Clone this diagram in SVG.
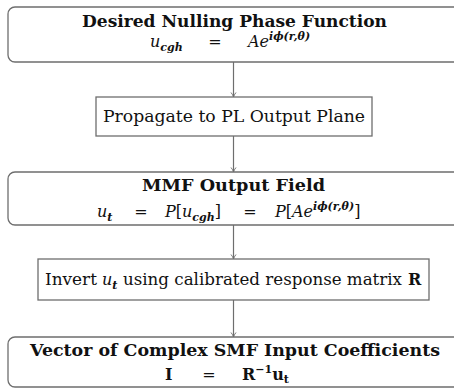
<svg xmlns="http://www.w3.org/2000/svg" width="454" height="389" viewBox="0 0 454 389">
<defs>
<style>
.box{fill:#fff;stroke:#6e6e6e;stroke-width:1.3}
.edge{fill:none;stroke:#6e6e6e;stroke-width:1.2}
text{font-family:"DejaVu Serif","Liberation Serif",serif;fill:#111}
.t{font-size:16px}
.b{font-weight:bold}
.i{font-style:italic}
.s{font-size:11px}
</style>
<marker id="ah" markerWidth="8" markerHeight="8" refX="6" refY="4" orient="auto" markerUnits="userSpaceOnUse">
<path d="M1.5,1.5 Q4,3.5 6,4 Q4,4.5 1.5,6.5" fill="none" stroke="#6e6e6e" stroke-width="0.9"/>
</marker>
</defs>
<rect width="454" height="389" fill="#fff"/>
<g id="connectors">
<line class="edge" x1="233.5" y1="62" x2="233.5" y2="97" marker-end="url(#ah)"/>
<line class="edge" x1="233.5" y1="136" x2="233.5" y2="172" marker-end="url(#ah)"/>
<line class="edge" x1="233.5" y1="225" x2="233.5" y2="259" marker-end="url(#ah)"/>
<line class="edge" x1="233.5" y1="300" x2="233.5" y2="337" marker-end="url(#ah)"/>
</g>
<g id="n1">
<rect class="box" x="8" y="7" width="470" height="55" rx="7"/>
<text class="t b" x="82" y="27" textLength="305" lengthAdjust="spacingAndGlyphs">Desired Nulling Phase Function</text>
<text class="t i" x="150" y="47">u<tspan class="s b" dy="4">cgh</tspan></text>
<text class="t" x="215" y="47" text-anchor="middle">=</text>
<text class="t i" x="248" y="47">Ae<tspan class="s b" dy="-7">iϕ(r,θ)</tspan></text>
</g>
<g id="n2">
<rect class="box" x="96" y="97" width="276" height="39"/>
<text class="t" x="103" y="122" textLength="262" lengthAdjust="spacingAndGlyphs">Propagate to PL Output Plane</text>
</g>
<g id="n3">
<rect class="box" x="8" y="172" width="470" height="53" rx="7"/>
<text class="t b" x="142" y="191" textLength="183" lengthAdjust="spacingAndGlyphs">MMF Output Field</text>
<text class="t i" x="97" y="217">u<tspan class="s b" dy="4">t</tspan></text>
<text class="t" x="141" y="217" text-anchor="middle">=</text>
<text class="t" x="165" y="217"><tspan class="i">P</tspan>[<tspan class="i">u</tspan><tspan class="s i b" dy="4">cgh</tspan><tspan dy="-4">]</tspan></text>
<text class="t" x="250" y="217" text-anchor="middle">=</text>
<text class="t" x="275" y="217"><tspan class="i">P</tspan>[<tspan class="i">Ae</tspan><tspan class="s i b" dy="-7">iϕ(r,θ)</tspan><tspan dy="7">]</tspan></text>
</g>
<g id="n4">
<rect class="box" x="38" y="259" width="391" height="41"/>
<text class="t" x="45" y="285" textLength="52" lengthAdjust="spacingAndGlyphs">Invert</text>
<text class="t i" x="102" y="285">u<tspan class="s b" dy="4">t</tspan></text>
<text class="t" x="123" y="285" textLength="279" lengthAdjust="spacingAndGlyphs">using calibrated response matrix</text>
<text class="t b" x="408" y="285">R</text>
</g>
<g id="n5">
<rect class="box" x="8" y="337" width="470" height="50" rx="7"/>
<text class="t b" x="30" y="356" textLength="410" lengthAdjust="spacingAndGlyphs">Vector of Complex SMF Input Coefficients</text>
<text class="t b" x="165" y="380">I</text>
<text class="t" x="209" y="380" text-anchor="middle">=</text>
<text class="t b" x="242" y="380">R<tspan class="s" dy="-7">−1</tspan><tspan dy="7">u</tspan><tspan class="s" dy="3">t</tspan></text>
</g>
</svg>
